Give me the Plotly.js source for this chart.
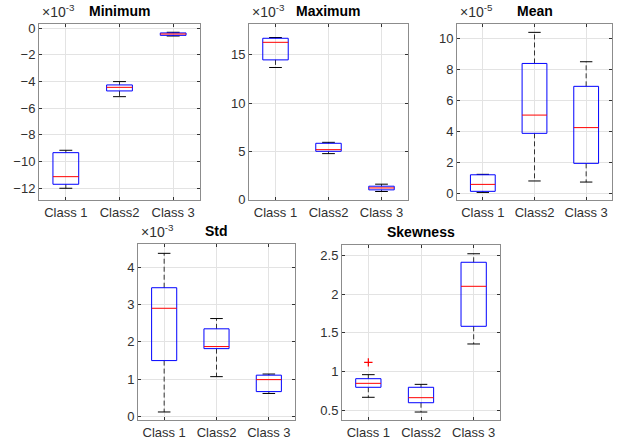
<!DOCTYPE html>
<html>
<head>
<meta charset="utf-8">
<script src="https://cdn.plot.ly/plotly-3.0.1.min.js"></script>
<style>html,body{margin:0;padding:0;background:#fff;}#chart{width:623px;height:445px;}</style>
</head>
<body>
<div id="chart"></div>
<script>
const classes = ['Class 1', 'Class2', 'Class 3'];
const classPos = [1, 2, 3];

// Minimum (x 1e-3)
const minimumLo  = [-12.0, -5.13, -0.58];
const minimumQ1  = [-11.7, -4.70, -0.53];
const minimumMed = [-11.13, -4.43, -0.43];
const minimumQ3  = [-9.33, -4.25, -0.35];
const minimumHi  = [-9.15, -4.00, -0.30];

// Maximum (x 1e-3)
const maximumLo  = [13.69, 4.76, 0.83];
const maximumQ1  = [14.48, 5.00, 1.00];
const maximumMed = [16.30, 5.17, 1.20];
const maximumQ3  = [16.72, 5.83, 1.38];
const maximumHi  = [16.80, 5.93, 1.59];

// Mean (x 1e-5)
const meanLo  = [0.06, 0.80, 0.73];
const meanQ1  = [0.13, 3.88, 1.94];
const meanMed = [0.58, 5.06, 4.25];
const meanQ3  = [1.20, 8.40, 6.92];
const meanHi  = [1.23, 10.41, 8.51];

// Std (x 1e-3)
const stdLo  = [0.125, 1.07, 0.62];
const stdQ1  = [1.50, 1.82, 0.67];
const stdMed = [2.90, 1.875, 0.99];
const stdQ3  = [3.45, 2.35, 1.11];
const stdHi  = [4.37, 2.625, 1.14];

// Skewness
const skewLo  = [0.668, 0.478, 1.356];
const skewQ1  = [0.797, 0.598, 1.584];
const skewMed = [0.848, 0.663, 2.10];
const skewQ3  = [0.908, 0.797, 2.41];
const skewHi  = [0.960, 0.835, 2.52];
const skewOutX = [1];
const skewOutY = [1.119];

const boxHalf = 0.24, capHalf = 0.12;

function boxTraces(ax, lo, q1, med, q3, hi, outX, outY) {
  const xa = 'x' + (ax === 1 ? '' : ax), ya = 'y' + (ax === 1 ? '' : ax);
  const wx = [], wy = [], bx = [], by = [], mx = [], my = [], cx = [], cy = [];
  classPos.forEach((p, i) => {
    wx.push(p, p, null, p, p, null);
    wy.push(q3[i], hi[i], null, q1[i], lo[i], null);
    bx.push(p - boxHalf, p + boxHalf, p + boxHalf, p - boxHalf, p - boxHalf, null);
    by.push(q1[i], q1[i], q3[i], q3[i], q1[i], null);
    mx.push(p - boxHalf, p + boxHalf, null);
    my.push(med[i], med[i], null);
    cx.push(p - capHalf, p + capHalf, null, p - capHalf, p + capHalf, null);
    cy.push(hi[i], hi[i], null, lo[i], lo[i], null);
  });
  const common = {type: 'scatter', mode: 'lines', xaxis: xa, yaxis: ya, hoverinfo: 'skip', showlegend: false};
  const t = [
    Object.assign({}, common, {x: wx, y: wy, line: {color: '#333', width: 1, dash: '5px,3px'}}),
    Object.assign({}, common, {x: cx, y: cy, line: {color: '#000', width: 1}}),
    Object.assign({}, common, {x: bx, y: by, line: {color: '#0000ff', width: 1}}),
    Object.assign({}, common, {x: mx, y: my, line: {color: '#ff0000', width: 1}})
  ];
  if (outX) {
    t.push({type: 'scatter', mode: 'markers', x: outX, y: outY, xaxis: xa, yaxis: ya, showlegend: false,
      marker: {symbol: 'cross-thin', size: 6, line: {color: '#ff0000', width: 1.2}, color: '#ff0000'}});
  }
  return t;
}

const data = [].concat(
  boxTraces(1, minimumLo, minimumQ1, minimumMed, minimumQ3, minimumHi),
  boxTraces(2, maximumLo, maximumQ1, maximumMed, maximumQ3, maximumHi),
  boxTraces(3, meanLo, meanQ1, meanMed, meanQ3, meanHi),
  boxTraces(4, stdLo, stdQ1, stdMed, stdQ3, stdHi),
  boxTraces(5, skewLo, skewQ1, skewMed, skewQ3, skewHi, skewOutX, skewOutY)
);

const W = 623, H = 445;
const boxesPx = [
  {l: 39, r: 200, t: 24, b: 200, range: [-12.88, 0.32], dtick: 2, title: 'Minimum', exp: '-3'},
  {l: 249, r: 408, t: 24, b: 200, range: [-0.05, 18.2], dtick: 5, title: 'Maximum', exp: '-3'},
  {l: 457, r: 612, t: 24, b: 200, range: [-0.43, 10.95], dtick: 2, title: 'Mean', exp: '-5'},
  {l: 138, r: 295, t: 244, b: 420, range: [-0.09, 4.62], dtick: 1, title: 'Std', exp: '-3'},
  {l: 342, r: 500, t: 245, b: 420, range: [0.375, 2.633], dtick: 0.5, title: 'Skewness', exp: null}
];

const font = {family: 'Liberation Sans, Arial, sans-serif', size: 13, color: '#303030'};
const layout = {
  width: W, height: H, margin: {l: 0, r: 0, t: 0, b: 0},
  paper_bgcolor: '#fff', plot_bgcolor: '#fff', font: font, showlegend: false,
  annotations: []
};

boxesPx.forEach((b, i) => {
  const n = i + 1;
  const xk = 'xaxis' + (n === 1 ? '' : n), yk = 'yaxis' + (n === 1 ? '' : n);
  const xa = 'x' + (n === 1 ? '' : n), ya = 'y' + (n === 1 ? '' : n);
  layout[xk] = {
    domain: [b.l / W, b.r / W], anchor: ya, range: [0.5, 3.5],
    tickvals: classPos, ticktext: classes, showgrid: true, gridcolor: '#e3e3e3', gridwidth: 1,
    zeroline: false, showline: true, linecolor: '#8c8c8c', linewidth: 1, mirror: 'ticks',
    ticks: 'inside', ticklen: 3, tickcolor: '#333', tickfont: font, fixedrange: true
  };
  layout[yk] = {
    domain: [1 - b.b / H, 1 - b.t / H], anchor: xa, range: b.range, dtick: b.dtick,
    showgrid: true, gridcolor: '#e3e3e3', gridwidth: 1,
    zeroline: false, showline: true, linecolor: '#8c8c8c', linewidth: 1, mirror: 'ticks',
    ticks: 'inside', ticklen: 3, tickcolor: '#333', tickfont: font, fixedrange: true
  };
  layout.annotations.push({
    text: '<b>' + b.title + '</b>', xref: 'paper', yref: 'paper',
    x: ((b.l + b.r) / 2) / W, y: 1 - (b.t - 3) / H, xanchor: 'center', yanchor: 'bottom',
    showarrow: false, font: {family: font.family, size: 14, color: '#000'}
  });
  if (b.exp) {
    layout.annotations.push({
      text: '×10<sup>' + b.exp + '</sup>', xref: 'paper', yref: 'paper',
      x: (b.l + 1) / W, y: 1 - (b.t - 2) / H, xanchor: 'left', yanchor: 'bottom',
      showarrow: false, font: {family: font.family, size: 14, color: '#303030'}
    });
  }
});

Plotly.newPlot('chart', data, layout, {displayModeBar: false, staticPlot: true});
</script>
</body>
</html>
